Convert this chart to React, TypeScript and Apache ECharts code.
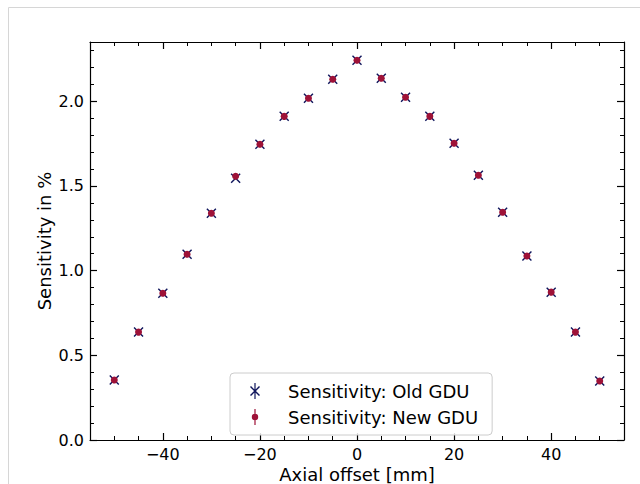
import React, { useEffect, useRef } from "react";
import * as echarts from "echarts";

const offsets = [-50, -45, -40, -35, -30, -25, -20, -15, -10, -5, 0, 5, 10, 15, 20, 25, 30, 35, 40, 45, 50];
const oldGdu = [0.354, 0.637, 0.867, 1.097, 1.339, 1.546, 1.746, 1.911, 2.018, 2.13, 2.242, 2.136, 2.024, 1.911, 1.752, 1.563, 1.345, 1.086, 0.873, 0.637, 0.348];
const newGdu = [0.354, 0.637, 0.867, 1.097, 1.339, 1.557, 1.746, 1.911, 2.018, 2.13, 2.242, 2.136, 2.024, 1.911, 1.752, 1.563, 1.345, 1.086, 0.873, 0.637, 0.348];
const xMajor = [-40, -20, 0, 20, 40];
const xMinor = [-55, -50, -45, -35, -30, -25, -15, -10, -5, 5, 10, 15, 25, 30, 35, 45, 50, 55];
const yMajor = [0, 0.5, 1.0, 1.5, 2.0];
const yMinor = [0.1, 0.2, 0.3, 0.4, 0.6, 0.7, 0.8, 0.9, 1.1, 1.2, 1.3, 1.4, 1.6, 1.7, 1.8, 1.9, 2.1, 2.2, 2.3];

const FONT = "DejaVu Sans";
const NAVY = "#10165c";
const RED = "#9e1238";

const X_MARK = "path://M0 1 L1 0 L10 9 L9 10 Z M9 0 L10 1 L1 10 L0 9 Z";
const OLD_ICON = "path://M4.4 0 H5.6 V16 H4.4 Z M0 4 L1 3 L10 12 L9 13 Z M9 3 L10 4 L1 13 L0 12 Z";
const NEW_ICON = "path://M4.4 0 H5.6 V4.9 H4.4 Z M4.4 11.1 H5.6 V16 H4.4 Z M1.8 8 A3.2 3.2 0 1 1 8.2 8 A3.2 3.2 0 1 1 1.8 8 Z";

const minus = (v: number) => String(v).replace("-", "\u2212");

export default function App() {
  const ref = useRef<HTMLDivElement>(null);
  useEffect(() => {
    if (!ref.current) return;
    const chart = echarts.init(ref.current, undefined, { renderer: "svg" });
    const line = { show: true, onZero: false, lineStyle: { color: "#000", width: 1.2 } };
    const noLine = { show: false, onZero: false };
    const xBase = { type: "value", min: -55, max: 55, splitLine: { show: false } };
    const yBase = { type: "value", min: 0, max: 2.35, splitLine: { show: false } };
    const majorTick = (vals: number[]) => ({ show: true, inside: true, length: 7, customValues: vals, lineStyle: { color: "#000", width: 1.2 } });
    const minorTick = (vals: number[]) => ({ show: true, inside: true, length: 4, customValues: vals, lineStyle: { color: "#000", width: 1 } });
    chart.setOption({
      animation: false,
      backgroundColor: "#fff",
      textStyle: { fontFamily: FONT },
      grid: { left: 90, right: 16, top: 42, bottom: 44, containLabel: false, outerBoundsMode: "none" },
      graphic: [
        {
          type: "rect",
          shape: { x: 8.5, y: 7.5, width: 700, height: 600 },
          style: { fill: "none", stroke: "#d6d6d6", lineWidth: 1 },
          silent: true,
        },
      ],
      xAxis: [
        {
          ...xBase,
          position: "bottom",
          axisLine: line,
          axisTick: majorTick(xMajor),
          axisLabel: { show: true, customValues: xMajor, formatter: (v: number) => minus(v), fontSize: 16, color: "#000", margin: 6, fontFamily: FONT },
          name: "Axial offset [mm]",
          nameLocation: "middle",
          nameGap: 25,
          nameMoveOverlap: false,
          nameTextStyle: { fontSize: 18, color: "#000", fontFamily: FONT },
        },
        { ...xBase, position: "bottom", axisLine: noLine, axisTick: minorTick(xMinor), axisLabel: { show: false } },
        { ...xBase, position: "top", axisLine: line, axisTick: majorTick(xMajor), axisLabel: { show: false } },
        { ...xBase, position: "top", axisLine: noLine, axisTick: minorTick(xMinor), axisLabel: { show: false } },
      ],
      yAxis: [
        {
          ...yBase,
          position: "left",
          axisLine: line,
          axisTick: majorTick(yMajor),
          axisLabel: { show: true, customValues: yMajor, formatter: (v: number) => v.toFixed(1), fontSize: 16, color: "#000", margin: 6, fontFamily: FONT },
          name: "Sensitivity in %",
          nameLocation: "middle",
          nameGap: 37,
          nameMoveOverlap: false,
          nameTextStyle: { fontSize: 18, color: "#000", fontFamily: FONT },
        },
        { ...yBase, position: "left", axisLine: noLine, axisTick: minorTick(yMinor), axisLabel: { show: false } },
        { ...yBase, position: "right", axisLine: line, axisTick: majorTick(yMajor), axisLabel: { show: false } },
        { ...yBase, position: "right", axisLine: noLine, axisTick: minorTick(yMinor), axisLabel: { show: false } },
      ],
      legend: {
        orient: "vertical",
        left: 230,
        top: 373,
        padding: [9, 14, 9, 20],
        itemGap: 8,
        itemWidth: 10,
        itemHeight: 16,
        borderColor: "#cccccc",
        borderWidth: 1,
        borderRadius: 4,
        backgroundColor: "rgba(255,255,255,0.85)",
        textStyle: { fontSize: 18, color: "#000", fontFamily: FONT, padding: [0, 0, 0, 23] },
        data: [
          { name: "Sensitivity: Old GDU", icon: OLD_ICON },
          { name: "Sensitivity: New GDU", icon: NEW_ICON },
        ],
      },
      series: [
        {
          name: "Sensitivity: Old GDU",
          type: "scatter",
          xAxisIndex: 0,
          yAxisIndex: 0,
          symbol: X_MARK,
          symbolSize: 10,
          itemStyle: { color: NAVY, opacity: 1 },
          data: offsets.map((x, i) => [x, oldGdu[i]]),
          z: 2,
        },
        {
          name: "Sensitivity: New GDU",
          type: "scatter",
          xAxisIndex: 0,
          yAxisIndex: 0,
          symbol: "circle",
          symbolSize: 7,
          itemStyle: { color: RED, opacity: 1 },
          data: offsets.map((x, i) => [x, newGdu[i]]),
          z: 3,
        },
      ],
    });
    return () => chart.dispose();
  }, []);
  return <div ref={ref} style={{ position: "absolute", left: 0, top: 0, width: 640, height: 484 }} />;
}
